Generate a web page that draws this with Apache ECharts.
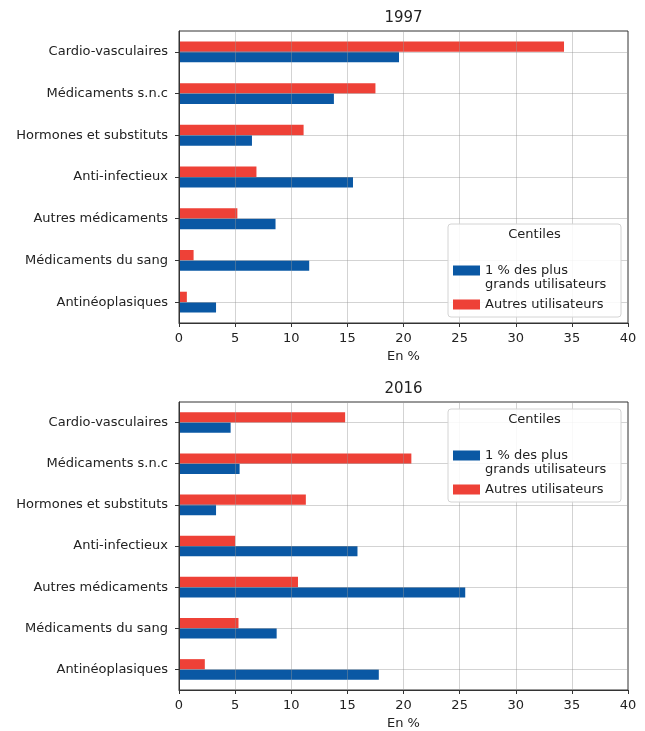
<!DOCTYPE html>
<html>
<head>
<meta charset="utf-8">
<title>Dépenses de médicaments par classe</title>
<script src="https://cdn.jsdelivr.net/npm/echarts@6/dist/echarts.min.js"></script>
<style>
  html, body { margin: 0; padding: 0; background: #fff; }
  #chart { width: 645px; height: 731px; }
</style>
</head>
<body>
<div id="chart"></div>
<script>
// Classes de médicaments (de haut en bas)
const categories = [
  'Cardio-vasculaires',
  'Médicaments s.n.c',
  'Hormones et substituts',
  'Anti-infectieux',
  'Autres médicaments',
  'Médicaments du sang',
  'Antinéoplasiques'
];

const seriesNames = ['1 % des plus\ngrands utilisateurs', 'Autres utilisateurs'];
const panelTitles = ['1997', '2016'];
const xTicks = [0, 5, 10, 15, 20, 25, 30, 35, 40];

// Part de la dépense (en %)
const top1997 = [19.6, 13.8, 6.5, 15.5, 8.6, 11.6, 3.3];
const autres1997 = [34.3, 17.5, 11.1, 6.9, 5.2, 1.3, 0.7];
const top2016 = [4.6, 5.4, 3.3, 15.9, 25.5, 8.7, 17.8];
const autres2016 = [14.8, 20.7, 11.3, 5.0, 10.6, 5.3, 2.3];

const BLUE = '#0a58a4';
const RED = '#ee4137';
const FONT = 'DejaVu Sans';
const GRIDLINE = 'rgba(150,150,150,0.42)';

const grids = [
  { left: 179, top: 31, width: 449, height: 292 },
  { left: 179, top: 402, width: 449, height: 292 }
];

function xAxisFor(i) {
  return {
    type: 'value', gridIndex: i,
    min: xTicks[0], max: xTicks[xTicks.length - 1], interval: 5,
    name: 'En %', nameLocation: 'middle', nameGap: 27,
    nameTextStyle: { fontFamily: FONT, fontSize: 13, color: '#222' },
    z: 3,
    axisLine: { show: true, lineStyle: { color: '#333', width: 1 } },
    axisTick: { show: true, length: 4, lineStyle: { color: '#333' } },
    axisLabel: { fontFamily: FONT, fontSize: 13, color: '#222', margin: 9 },
    splitLine: { show: true, lineStyle: { color: GRIDLINE, width: 1 } }
  };
}

function yAxisFor(i) {
  return {
    type: 'category', gridIndex: i, data: categories, inverse: true,
    z: 3,
    axisLine: { show: true, lineStyle: { color: '#333', width: 1 } },
    axisTick: { show: true, length: 4, alignWithLabel: true, lineStyle: { color: '#333' } },
    axisLabel: { fontFamily: FONT, fontSize: 13, color: '#222', margin: 11 },
    splitLine: { show: true, alignWithLabel: true, lineStyle: { color: GRIDLINE, width: 1 } }
  };
}

function barSeries(name, data, color, i) {
  return {
    type: 'bar', name: name, data: data,
    xAxisIndex: i, yAxisIndex: i,
    barWidth: '25%', barGap: '0%',
    itemStyle: { color: color },
    z: 2
  };
}

function legendBox(x, y, w, h) {
  return [
    {
      type: 'rect', z: 10, silent: true,
      shape: { x: x, y: y, width: w, height: h, r: 3 },
      style: { fill: 'rgba(255,255,255,0.85)', stroke: '#d4d4d4', lineWidth: 1 }
    },
    {
      type: 'text', z: 11, silent: true,
      x: x + w / 2, y: y + 11,
      style: { text: 'Centiles', fontFamily: FONT, fontSize: 13, fill: '#222', align: 'center', verticalAlign: 'middle' }
    }
  ];
}

// Legend swatches: the first one sits beside the first line of its two-line label
const ICON_FIRST_LINE = 'path://M0,0H27V10H0Z M0,25L0.01,25';
const ICON_CENTRED = 'path://M0,7.5H27V17.5H0Z M0,0L0.01,0 M0,25L0.01,25';

function legendFor(top) {
  return {
    left: 453, top: top, orient: 'vertical',
    itemWidth: 27, itemHeight: 25, itemGap: 0, padding: 0,
    z: 12,
    textStyle: { fontFamily: FONT, fontSize: 13, color: '#222', lineHeight: 14 },
    data: [
      { name: seriesNames[0], icon: ICON_FIRST_LINE },
      { name: seriesNames[1], icon: ICON_CENTRED }
    ]
  };
}

const chart = echarts.init(document.getElementById('chart'), null, { renderer: 'canvas' });

chart.setOption({
  animation: false,
  backgroundColor: '#fff',
  grid: grids.map(g => Object.assign({ show: true, borderColor: '#333', borderWidth: 1, backgroundColor: 'transparent' }, g)),
  xAxis: [xAxisFor(0), xAxisFor(1)],
  yAxis: [yAxisFor(0), yAxisFor(1)],
  legend: [legendFor(264), legendFor(449)],
  graphic: [
    { type: 'text', x: 403.5, y: 18, z: 5, style: { text: panelTitles[0], fontFamily: FONT, fontSize: 15, fill: '#222', align: 'center', verticalAlign: 'middle' } },
    { type: 'text', x: 403.5, y: 389, z: 5, style: { text: panelTitles[1], fontFamily: FONT, fontSize: 15, fill: '#222', align: 'center', verticalAlign: 'middle' } },
    ...legendBox(448, 224, 173, 93),
    ...legendBox(448, 409, 173, 93)
  ],
  // "Autres utilisateurs" is listed first so its bar sits above the other in each band
  series: [
    barSeries(seriesNames[1], autres1997, RED, 0),
    barSeries(seriesNames[0], top1997, BLUE, 0),
    barSeries(seriesNames[1], autres2016, RED, 1),
    barSeries(seriesNames[0], top2016, BLUE, 1)
  ]
});
</script>
</body>
</html>
